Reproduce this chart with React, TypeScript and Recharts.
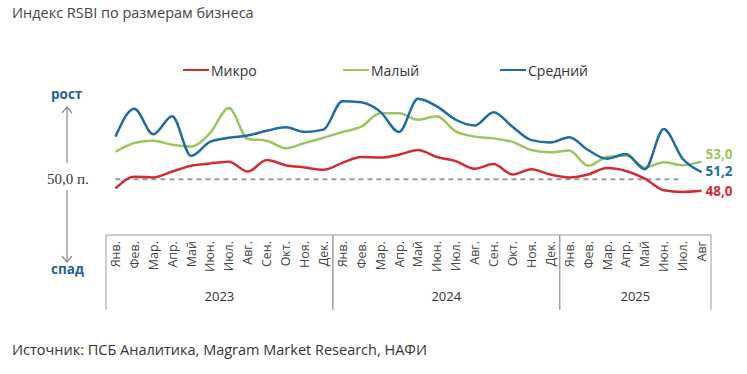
import React from 'react';
import { LineChart, Line, XAxis, YAxis, ReferenceLine } from 'recharts';

const months2023 = ['Янв.', 'Фев.', 'Мар.', 'Апр.', 'Май', 'Июн.', 'Июл.', 'Авг.', 'Сен.', 'Окт.', 'Ноя.', 'Дек.'];
const months2024 = ['Янв.', 'Фев.', 'Мар.', 'Апр.', 'Май', 'Июн.', 'Июл.', 'Авг.', 'Сен.', 'Окт.', 'Ноя.', 'Дек.'];
const months2025 = ['Янв.', 'Фев.', 'Мар.', 'Апр.', 'Май', 'Июн.', 'Июл.', 'Авг'];
const years = ['2023', '2024', '2025'];

const micro = [48.4, 50.4, 50.3, 51.3, 52.3, 52.7, 53.0, 51.3, 53.3, 52.4, 52.0, 51.6,
  52.8, 53.8, 53.7, 54.2, 55.0, 53.8, 53.1, 51.8, 52.6, 50.8, 51.7, 50.8,
  50.3, 50.8, 51.9, 51.4, 50.1, 48.1, 47.8, 48.0];
const small = [54.7, 56.2, 56.6, 55.9, 55.6, 57.9, 62.2, 56.9, 56.6, 55.3, 56.2, 57.1,
  58.1, 59.0, 61.3, 61.3, 60.2, 60.8, 58.2, 57.3, 57.0, 56.4, 55.0, 54.6,
  54.9, 52.3, 53.8, 54.0, 52.0, 52.9, 52.4, 53.0];
const medium = [57.3, 62.1, 57.7, 60.8, 54.0, 56.4, 57.1, 57.5, 58.3, 58.9, 58.1, 58.5,
  63.4, 63.2, 61.6, 58.1, 63.8, 62.5, 60.2, 59.2, 61.5, 59.0, 56.7, 56.3,
  57.2, 55.0, 53.5, 54.3, 51.7, 58.6, 53.5, 51.2];

const seriesNames = ['Микро', 'Малый', 'Средний'];
const baselineValue = 50;
const baselineLabel = '50,0 п.';
const upLabel = 'рост';
const downLabel = 'спад';
const title = 'Индекс RSBI по размерам бизнеса';
const source = 'Источник: ПСБ Аналитика, Magram Market Research, НАФИ';

const RED = '#D52B30';
const GREEN = '#9DC55F';
const BLUE = '#1E6CA6';

const monthGroups = [months2023, months2024, months2025];
const monthLabels: string[] = [];
const yearOf: string[] = [];
monthGroups.forEach((g, gi) => g.forEach((m) => { monthLabels.push(m); yearOf.push(years[gi]); }));

const data = monthLabels.map((m, i) => ({
  key: `${yearOf[i]}-${i}`,
  month: m,
  micro: micro[i],
  small: small[i],
  medium: medium[i],
}));

const groups: { year: string; start: number; end: number }[] = [];
{
  let s = 0;
  monthGroups.forEach((g, gi) => {
    groups.push({ year: years[gi], start: s, end: s + g.length - 1 });
    s += g.length;
  });
}

const PLOT_LEFT = 106;
const PLOT_RIGHT = 711;
const STEP = (PLOT_RIGHT - PLOT_LEFT) / data.length;
const HALF = STEP / 2;
const BOX_H = 75;

function MonthTick(props: any) {
  const { x, y, payload, index } = props;
  const i = payload && typeof payload.index === 'number' ? payload.index : index;
  const label = data[i] ? data[i].month : '';
  const els: any[] = [];
  els.push(
    <text key="m" transform={`translate(${x},${y + 6}) rotate(-90)`} textAnchor="end" dy="0.36em"
      fontSize={12.5} fill="#444" fontFamily="'Open Sans', sans-serif">{label}</text>
  );
  groups.forEach((g) => {
    if (i === g.start) {
      els.push(<line key={'l' + g.year} x1={x - HALF} x2={x - HALF} y1={y} y2={y + BOX_H} stroke="#9a9a9a" strokeWidth={1} />);
    }
    if (i === g.end) {
      els.push(<line key={'r' + g.year} x1={x + HALF} x2={x + HALF} y1={y} y2={y + BOX_H} stroke="#9a9a9a" strokeWidth={1} />);
    }
    const mid = (g.start + g.end) / 2;
    if (i === Math.floor(mid)) {
      const cx = x + (mid - Math.floor(mid)) * STEP;
      els.push(<text key={'y' + g.year} x={cx} y={y + 66} textAnchor="middle" fontSize={13} fill="#333" fontFamily="'Open Sans', sans-serif">{g.year}</text>);
    }
  });
  return <g>{els}</g>;
}

function makeEndLabel(color: string, dy: number) {
  return (p: any) => {
    if (p.index !== data.length - 1) return <g />;
    return (
      <text x={p.x + 4} y={p.y + dy} fill={color} fontSize={13.5} fontWeight={700} dy="0.35em"
        fontFamily="'Open Sans', sans-serif">{String(p.value.toFixed(1)).replace('.', ',')}</text>
    );
  };
}

export default function App() {
  const legendItems = [
    { name: seriesNames[0], color: RED, left: 183 },
    { name: seriesNames[1], color: GREEN, left: 343 },
    { name: seriesNames[2], color: BLUE, left: 500 },
  ];
  return (
    <div style={{ position: 'absolute', left: 0, top: 0, width: 747, height: 374, background: '#fff', fontFamily: "'Open Sans', sans-serif" }}>
      <div style={{ position: 'absolute', left: 12, top: 3, fontSize: 14.5, color: '#444', lineHeight: '20px', whiteSpace: 'nowrap' }}>{title}</div>
      {legendItems.map((it) => (
        <div key={it.name} style={{ position: 'absolute', left: it.left, top: 60, height: 20, display: 'flex', alignItems: 'center', whiteSpace: 'nowrap' }}>
          <div style={{ width: 26, height: 2, background: it.color, marginRight: 2 }} />
          <span style={{ fontSize: 14, color: '#333' }}>{it.name}</span>
        </div>
      ))}
      <div style={{ position: 'absolute', left: 51, top: 84, fontSize: 13.5, fontWeight: 700, color: '#1F5E98', lineHeight: '20px' }}>{upLabel}</div>
      <div style={{ position: 'absolute', left: 51, top: 259, fontSize: 13.5, fontWeight: 700, color: '#1F5E98', lineHeight: '20px' }}>{downLabel}</div>
      <div style={{ position: 'absolute', left: 47, top: 169, fontSize: 15, color: '#333', lineHeight: '20px', fontFamily: "'Liberation Serif', serif", whiteSpace: 'nowrap' }}>{baselineLabel}</div>
      <svg style={{ position: 'absolute', left: 0, top: 0 }} width={120} height={300}>
        <line x1={67} x2={67} y1={107} y2={163} stroke="#888" strokeWidth={1.2} />
        <polyline points="62,113 67,107 72,113" fill="none" stroke="#888" strokeWidth={1.2} />
        <line x1={67} x2={67} y1={190} y2={262} stroke="#888" strokeWidth={1.2} />
        <polyline points="62,256 67,262 72,256" fill="none" stroke="#888" strokeWidth={1.2} />
      </svg>
      <div style={{ position: 'absolute', left: 0, top: 0 }}>
        <LineChart width={747} height={374} data={data} margin={{ top: 86, right: 747 - PLOT_RIGHT, bottom: 59, left: PLOT_LEFT }}>
          <XAxis dataKey="key" height={80} interval={0} tickLine={false} tickSize={0} tickMargin={0}
            axisLine={{ stroke: '#9a9a9a' }} padding={{ left: HALF, right: HALF }}
            tick={(p: any) => <MonthTick {...p} />} />
          <YAxis hide type="number" domain={[40.4, 66]} allowDataOverflow />
          <ReferenceLine segment={[{ x: data[0].key, y: baselineValue }, { x: data[30].key, y: baselineValue }]}
            stroke="#9a9a9a" strokeWidth={2} strokeDasharray="5 4" />
          <Line type="monotone" dataKey="micro" stroke={RED} strokeWidth={2.5} dot={false} isAnimationActive={false}
            label={makeEndLabel(RED, 1)} />
          <Line type="monotone" dataKey="small" stroke={GREEN} strokeWidth={2.5} dot={false} isAnimationActive={false}
            label={makeEndLabel(GREEN, -7)} />
          <Line type="monotone" dataKey="medium" stroke={BLUE} strokeWidth={2.5} dot={false} isAnimationActive={false}
            label={makeEndLabel(BLUE, -1)} />
        </LineChart>
      </div>
      <div style={{ position: 'absolute', left: 12, top: 340, fontSize: 14.5, color: '#333', lineHeight: '20px', whiteSpace: 'nowrap' }}>{source}</div>
    </div>
  );
}
